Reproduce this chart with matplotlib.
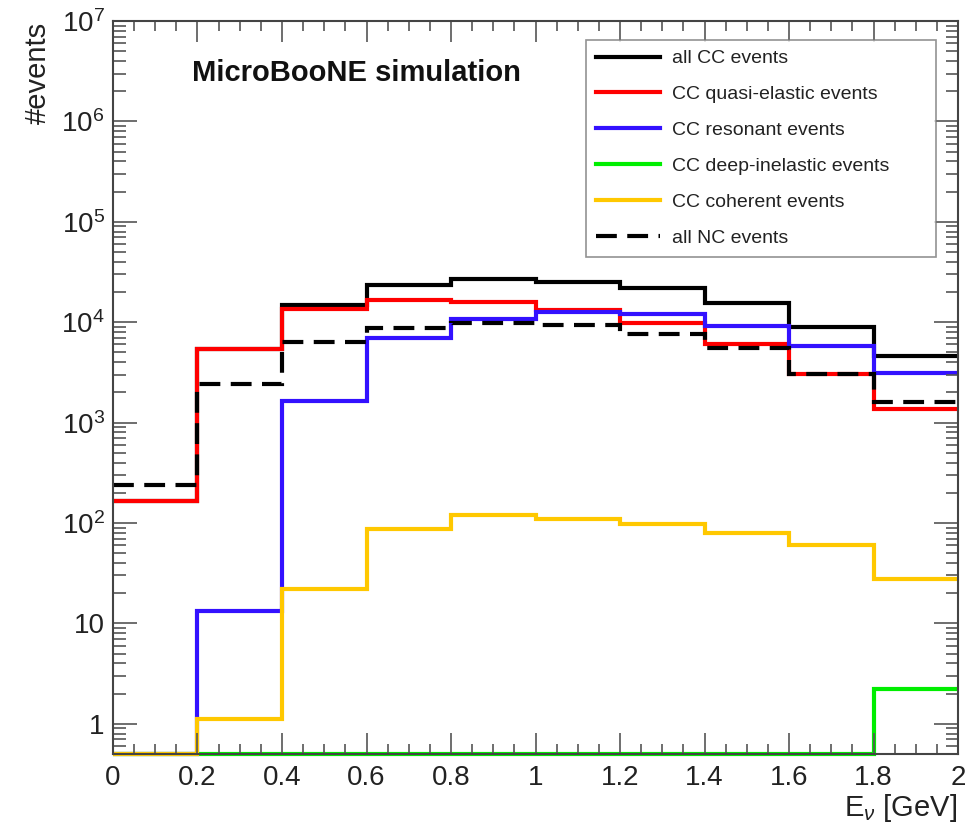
import numpy as np
import matplotlib.pyplot as plt
from matplotlib.ticker import FixedLocator, FixedFormatter, MultipleLocator

plt.rcParams['font.family'] = ['Liberation Sans', 'DejaVu Sans']
plt.rcParams['mathtext.fontset'] = 'custom'
plt.rcParams['mathtext.rm'] = 'Liberation Sans'
plt.rcParams['mathtext.it'] = 'Liberation Sans:italic'

# bin edges in GeV
edges = np.arange(0, 2.01, 0.2)

all_cc = [165, 5470, 14800, 23300, 26800, 25100, 22100, 15500, 8900, 4600]
cc_qe = [165, 5460, 13600, 16500, 15900, 13200, 9800, 6000, 3070, 1380]
cc_res = [0, 13.4, 1630, 7000, 10800, 12600, 12200, 9100, 5800, 3100]
cc_dis = [0, 0, 0, 0, 0, 0, 0, 0, 0, 2.22]
cc_coh = [0, 1.12, 21.9, 88, 119, 110, 98, 80, 60, 27.8]
all_nc = [237, 2440, 6300, 8700, 9900, 9300, 7600, 5500, 3070, 1620]

labels = ['all CC events', 'CC quasi-elastic events', 'CC resonant events',
          'CC deep-inelastic events', 'CC coherent events', 'all NC events']
colors = ['black', '#ff0000', '#3311ff', '#00ee00', '#ffc800', 'black']
series = [all_cc, cc_qe, cc_res, cc_dis, cc_coh, all_nc]

xticks = [0, 0.2, 0.4, 0.6, 0.8, 1, 1.2, 1.4, 1.6, 1.8, 2]
xlabs = ['0', '0.2', '0.4', '0.6', '0.8', '1', '1.2', '1.4', '1.6', '1.8', '2']
yticks = [1, 10, 1e2, 1e3, 1e4, 1e5, 1e6, 1e7]
ylabs = ['1', '10', r'$10^2$', r'$10^3$', r'$10^4$', r'$10^5$', r'$10^6$', r'$10^7$']

ymin, ymax = 0.5, 1e7

fig = plt.figure(figsize=(9.8, 8.34), dpi=100)
ax = fig.add_axes([0.1153, 0.0959, 0.8623, 0.8789])

for vals, col, lab in zip(series, colors, labels):
    v = np.maximum(np.array(vals, dtype=float), ymin)
    ls = (0, (5, 2.5)) if lab == 'all NC events' else '-'
    ax.stairs(v, edges, baseline=None, color=col, linewidth=3, linestyle=ls,
              label=lab, clip_on=False)

ax.set_yscale('log')
ax.set_xlim(0, 2)
ax.set_ylim(ymin, ymax)

ax.xaxis.set_major_locator(FixedLocator(xticks))
ax.xaxis.set_major_formatter(FixedFormatter(xlabs))
ax.xaxis.set_minor_locator(MultipleLocator(0.05))

ax.yaxis.set_major_locator(FixedLocator(yticks))
ax.yaxis.set_major_formatter(FixedFormatter(ylabs))
minors = [m * 10.0 ** e for e in range(-1, 7) for m in range(2, 10)]
ax.yaxis.set_minor_locator(FixedLocator([m for m in minors if ymin <= m <= ymax]))

ax.tick_params(axis='both', which='both', direction='in', top=True, right=True,
               color='#555555', labelsize=20, width=1.2, labelcolor='#222222')
ax.tick_params(axis='x', which='major', length=15, pad=8)
ax.tick_params(axis='x', which='minor', length=7.5)
ax.tick_params(axis='y', which='major', length=17, pad=6)
ax.tick_params(axis='y', which='minor', length=9)
for s in ax.spines.values():
    s.set_color('#444444')
    s.set_linewidth(1.5)

ax.text(0.0935, 0.929, 'MicroBooNE simulation', transform=ax.transAxes,
        fontsize=21, fontweight='bold', ha='left', va='center', color='#111111')

fig.text(0.039, 0.974, '#events', rotation=90, ha='center', va='top', fontsize=21,
         color='#222222')
fig.text(0.977, 0.012, r'E$_{\nu}$ [GeV]', ha='right', va='bottom', fontsize=21,
         color='#222222')

leg = ax.legend(loc='upper left', bbox_to_anchor=(0.560, 0.5, 0.414, 0.474),
                mode='expand', borderaxespad=0, fontsize=14, fancybox=False,
                handlelength=3.3, handletextpad=0.6, labelspacing=0.94,
                borderpad=0.5)
leg.get_frame().set_edgecolor('#777777')
leg.get_frame().set_linewidth(1.2)
for t in leg.get_texts():
    t.set_color('#222222')

fig.savefig('out.png', dpi=100)
